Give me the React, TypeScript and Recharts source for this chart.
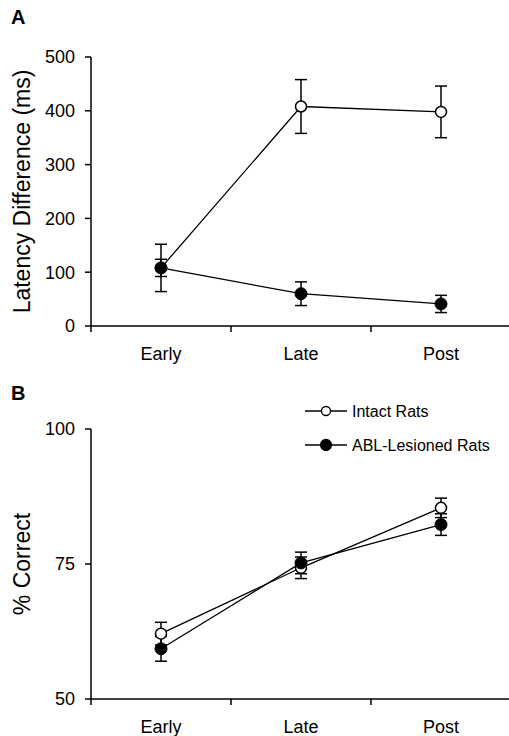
import React from "react";
import { LineChart, Line, XAxis, YAxis, ErrorBar, Legend } from "recharts";

const phases = ["Early", "Late", "Post"];

// panel A: latency difference (ms)
const latencyIntact = [108, 408, 398];
const latencyIntactErr = [44, 50, 48];
const latencyAbl = [108, 60, 41];
const latencyAblErr = [16, 22, 16];
const latencyTicks = [0, 100, 200, 300, 400, 500];

// panel B: % correct
const correctIntact = [62.1, 74.3, 85.4];
const correctIntactErr = [2.1, 2.0, 1.8];
const correctAbl = [59.3, 75.2, 82.3];
const correctAblErr = [2.3, 2.0, 2.0];
const correctTicks = [50, 75, 100];

const seriesNames = ["Intact Rats", "ABL-Lesioned Rats"];

const latencyData = phases.map((p, i) => ({
  phase: p,
  intact: latencyIntact[i],
  intactErr: latencyIntactErr[i],
  abl: latencyAbl[i],
  ablErr: latencyAblErr[i],
}));

const correctData = phases.map((p, i) => ({
  phase: p,
  intact: correctIntact[i],
  intactErr: correctIntactErr[i],
  abl: correctAbl[i],
  ablErr: correctAblErr[i],
}));

const CHART_W = 511;
const CHART_H = 368;
const AXIS_W = 91;
const X_AXIS_H = 2;
const HALF_BAND = (CHART_W - AXIS_W) / phases.length / 2;
const FONT = "'Liberation Sans', Arial, sans-serif";

const XTick = (props: any) => {
  const { x, y, payload, index } = props;
  return (
    <g>
      <line x1={x + HALF_BAND} x2={x + HALF_BAND} y1={y} y2={y + 6} stroke="#000" strokeWidth={1.5} />
      {index === 0 && (
        <line x1={x - HALF_BAND} x2={x - HALF_BAND} y1={y} y2={y + 6} stroke="#000" strokeWidth={1.5} />
      )}
      <text x={x} y={y + 21} dy="0.71em" textAnchor="middle" fontSize={18} fill="#000">
        {payload.value}
      </text>
    </g>
  );
};

const YLabel = (props: any) => {
  const { txt, cy } = props;
  return (
    <text
      x={30}
      y={cy}
      transform={`rotate(-90 30 ${cy})`}
      textAnchor="middle"
      fontSize={23}
      fill="#000"
    >
      {txt}
    </text>
  );
};

const LegendBox = () => (
  <svg width={200} height={60}>
    {seriesNames.map((name, i) => {
      const cy = 15 + i * 34;
      return (
        <g key={name}>
          <line x1={5} x2={47} y1={cy} y2={cy} stroke="#000" strokeWidth={1.3} />
          <circle
            cx={26}
            cy={cy}
            r={i === 0 ? 4.5 : 5.5}
            fill={i === 0 ? "#fff" : "#000"}
            stroke="#000"
            strokeWidth={1.3}
          />
          <text x={52} y={cy + 5.5} fontSize={16} fill="#000">
            {name}
          </text>
        </g>
      );
    })}
  </svg>
);

const openDot = { r: 5.5, fill: "#fff", stroke: "#000", strokeWidth: 1.5 };
const filledDot = { r: 6, fill: "#000", stroke: "#000", strokeWidth: 1 };

type PanelProps = {
  data: any[];
  domain: [number, number];
  ticks: number[];
  label: string;
  top: number;
  bottom: number;
  legend?: boolean;
};

const Panel = ({ data, domain, ticks, label, top, bottom, legend }: PanelProps) => {
  const cy = top + (CHART_H - top - bottom) / 2;
  return (
    <LineChart
      width={CHART_W}
      height={CHART_H}
      data={data}
      margin={{ top, right: 0, bottom: bottom - X_AXIS_H, left: 0 }}
    >
      <XAxis
        dataKey="phase"
        height={X_AXIS_H}
        padding={{ left: HALF_BAND, right: HALF_BAND }}
        axisLine={{ stroke: "#000", strokeWidth: 1.5 }}
        tickLine={false}
        tickSize={0}
        tickMargin={0}
        tick={<XTick />}
        interval={0}
      />
      <YAxis
        width={AXIS_W}
        domain={domain}
        ticks={ticks}
        type="number"
        allowDataOverflow
        axisLine={{ stroke: "#000", strokeWidth: 1.5 }}
        tickLine={{ stroke: "#000", strokeWidth: 1.5 }}
        tickSize={6}
        tickMargin={10}
        tick={{ fontSize: 18, fill: "#000" }}
        label={<YLabel txt={label} cy={cy} />}
      />
      {legend && (
        <Legend
          layout="vertical"
          align="center"
          verticalAlign="middle"
          content={<LegendBox />}
          wrapperStyle={{ top: 28, left: 300, width: 200, height: 60 }}
        />
      )}
      <Line
        name={seriesNames[0]}
        type="linear"
        dataKey="intact"
        stroke="#000"
        strokeWidth={1.3}
        dot={openDot}
        activeDot={false}
        isAnimationActive={false}
      >
        <ErrorBar dataKey="intactErr" direction="y" width={6} stroke="#000" strokeWidth={1.5} />
      </Line>
      <Line
        name={seriesNames[1]}
        type="linear"
        dataKey="abl"
        stroke="#000"
        strokeWidth={1.3}
        dot={filledDot}
        activeDot={false}
        isAnimationActive={false}
      >
        <ErrorBar dataKey="ablErr" direction="y" width={6} stroke="#000" strokeWidth={1.5} />
      </Line>
    </LineChart>
  );
};

export default function App() {
  return (
    <div
      style={{
        position: "absolute",
        left: 0,
        top: 0,
        width: 509,
        height: 736,
        overflow: "hidden",
        background: "#fff",
        fontFamily: FONT,
      }}
    >
      <div style={{ position: "absolute", left: 11, top: 6, fontSize: 20, fontWeight: "bold" }}>A</div>
      <div style={{ position: "absolute", left: 11, top: 382, fontSize: 20, fontWeight: "bold" }}>B</div>
      <div style={{ position: "absolute", left: 0, top: 0 }}>
        <Panel
          data={latencyData}
          domain={[0, 500]}
          ticks={latencyTicks}
          label="Latency Difference (ms)"
          top={57}
          bottom={42}
        />
      </div>
      <div style={{ position: "absolute", left: 0, top: 368 }}>
        <Panel
          data={correctData}
          domain={[50, 100]}
          ticks={correctTicks}
          label="% Correct"
          top={61}
          bottom={37}
          legend
        />
      </div>
    </div>
  );
}
